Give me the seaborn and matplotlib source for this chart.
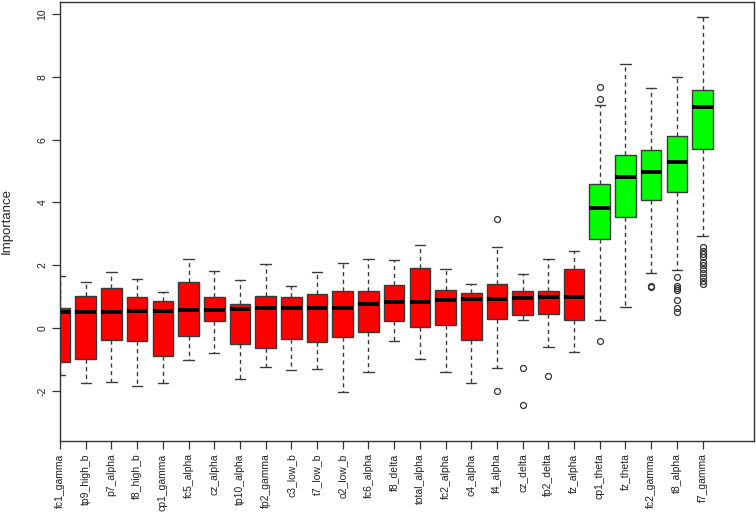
import numpy as np
import pandas as pd
import matplotlib
matplotlib.use("Agg")
import matplotlib.pyplot as plt
import seaborn as sns

# Boruta-style importance summary
features = ["fc1_gamma", "tp9_high_b", "p7_alpha", "f8_high_b", "cp1_gamma", "fc5_alpha",
            "cz_alpha", "tp10_alpha", "fp2_gamma", "c3_low_b", "t7_low_b", "o2_low_b",
            "fc6_alpha", "f8_delta", "total_alpha", "fc2_alpha", "c4_alpha", "f4_alpha",
            "cz_delta", "fp2_delta", "fz_alpha", "cp1_theta", "fz_theta", "fc2_gamma",
            "t8_alpha", "f7_gamma"]
q1 = [-1.09, -0.99, -0.38, -0.42, -0.88, -0.25, 0.22, -0.51, -0.64, -0.35, -0.45, -0.29,
      -0.11, 0.23, 0.04, 0.11, -0.38, 0.29, 0.42, 0.46, 0.25, 2.84, 3.55, 4.08, 4.34, 5.70]
med = [0.53, 0.53, 0.53, 0.55, 0.56, 0.57, 0.57, 0.62, 0.64, 0.64, 0.64, 0.65,
       0.78, 0.82, 0.83, 0.89, 0.93, 0.92, 0.97, 1.00, 0.99, 3.84, 4.81, 4.96, 5.30, 7.03]
q3 = [0.63, 1.03, 1.27, 0.99, 0.88, 1.46, 1.00, 0.77, 1.03, 1.00, 1.09, 1.19,
      1.17, 1.38, 1.92, 1.22, 1.13, 1.41, 1.18, 1.19, 1.87, 4.60, 5.52, 5.67, 6.11, 7.59]
lo = [-1.49, -1.73, -1.70, -1.85, -1.73, -1.01, -0.80, -1.62, -1.23, -1.32, -1.29, -2.02,
      -1.39, -0.42, -0.97, -1.38, -1.74, -1.28, 0.25, -0.60, -0.75, 0.25, 0.68, 1.75, 1.85, 2.92]
hi = [1.67, 1.46, 1.80, 1.57, 1.14, 2.19, 1.81, 1.53, 2.05, 1.35, 1.78, 2.07,
      2.21, 2.16, 2.64, 1.88, 1.42, 2.57, 1.73, 2.20, 2.45, 7.09, 8.41, 7.63, 8.00, 9.89]
outliers = {
    "f4_alpha": [3.47, -2.01],
    "cz_delta": [-1.27, -2.44],
    "fp2_delta": [-1.52],
    "cp1_theta": [7.68, 7.29, -0.42],
    "fc2_gamma": [1.33, 1.30],
    "t8_alpha": [1.64, 1.34, 1.27, 1.21, 0.89, 0.63, 0.52],
    "f7_gamma": [2.58, 2.47, 2.37, 2.25, 2.12, 2.00, 1.88, 1.76, 1.63, 1.51, 1.42],
}
confirmed = ["cp1_theta", "fz_theta", "fc2_gamma", "t8_alpha", "f7_gamma"]

# build a sample per feature whose quartiles/whiskers/outliers match the summary
rows = []
for i, f in enumerate(features):
    out = outliers.get(f, [])
    low = sorted([o for o in out if o < q1[i]] + [lo[i]])
    high = sorted([hi[i]] + [o for o in out if o > q3[i]])
    m = max(len(low), len(high))
    vals = (low + [q1[i]] * (m - len(low)) + [q1[i]] + [med[i]] * (2 * m - 1)
            + [q3[i]] + [q3[i]] * (m - len(high)) + high)
    rows += [(f, v) for v in vals]
df = pd.DataFrame(rows, columns=["feature", "importance"])

palette = {f: ("#00FF00" if f in confirmed else "#FF0000") for f in features}

sns.set_theme(style="white")
plt.rcParams['font.family'] = ['Liberation Sans', 'DejaVu Sans']

fig = plt.figure(figsize=(7.56, 5.15), dpi=100)
ax = fig.add_axes([60 / 756, 1 - 441 / 515, 694 / 756, 439 / 515])

sns.boxplot(data=df, x="feature", y="importance", hue="feature", order=features,
            palette=palette, legend=False, width=0.8, saturation=1, ax=ax,
            linecolor="#3a3a3a", linewidth=1,
            medianprops=dict(color="black", linewidth=2.8),
            whiskerprops=dict(linestyle=(0, (3, 2.5)), color="#3a3a3a"),
            capprops=dict(color="#3a3a3a"),
            flierprops=dict(marker="o", markerfacecolor="none", markeredgecolor="#333333",
                            markersize=4.3, markeredgewidth=0.9))

ax.set_xlim(0, 27)
ax.set_ylim(-3.59, 10.38)
ax.set_yticks([-2, 0, 2, 4, 6, 8, 10])
ax.set_yticklabels(["-2", "0", "2", "4", "6", "8", "10"], rotation=90, va="center", fontsize=7.5)
ax.set_xticks(range(len(features)))
ax.set_xticklabels(features, rotation=90, fontsize=7.5)
ax.set_xlabel("")
ax.set_ylabel("Importance", fontsize=9.5)
ax.yaxis.set_label_coords(-0.068, 0.5)
ax.tick_params(axis="both", direction="out", length=6, width=0.9, color="#333333",
               bottom=True, left=True, pad=3, labelcolor="#222222")
for s in ax.spines.values():
    s.set_color("#333333")
    s.set_linewidth(1)

fig.savefig("out.png", dpi=100)
